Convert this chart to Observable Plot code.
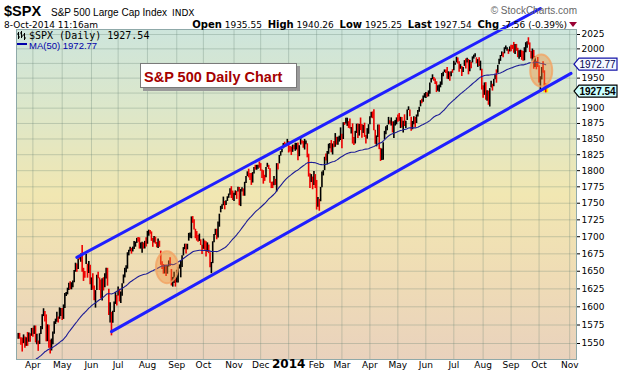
<!DOCTYPE html>
<html><head><meta charset="utf-8">
<script src="https://cdn.jsdelivr.net/npm/d3@7"></script>
<script src="https://cdn.jsdelivr.net/npm/@observablehq/plot@0.6"></script>
<style>
body{margin:0;background:#fff;}
#wrap{position:relative;width:620px;height:376px;overflow:hidden;background:#fff;}
#wrap > svg{position:absolute;left:0;top:0;}
.abs{position:absolute;white-space:nowrap;line-height:1;}
</style></head><body><div id="wrap"></div>
<script>
// ---------- data ----------
const tradingHolidays = ["2013-01-01","2013-01-21","2013-02-18","2013-03-29","2013-05-27","2013-07-04","2013-09-02","2013-11-28","2013-12-25",
  "2014-01-01","2014-01-20","2014-02-17","2014-04-18","2014-05-26","2014-07-04","2014-09-01","2014-11-27","2014-12-25"];

// closes before the first drawn bar (only feed the 50-day average)
const priorCloses = [1462.42,1459.37,1466.47,1461.89,1457.15,1461.02,1472.12,1472.05,1470.68,1472.34,1472.63,1480.94,1485.98,1492.56,1494.81,1494.82,1502.96,1500.18,1507.84,1501.96,1498.11,
  1513.17,1495.71,1511.29,1512.12,1509.39,1517.93,1517.01,1519.43,1520.33,1521.38,1519.79,1530.94,1511.95,1502.42,1515.60,1487.85,1496.94,1515.99,1514.68,
  1518.20,1525.20,1539.79,1541.46,1544.26,1551.18,1556.22,1552.48,1554.52];

// 14-Mar-2013 .. 31-Dec-2013
const close2013 = [1563.23,
  1560.70,1552.10,1548.34,1558.71,1545.80,1556.89,1551.69,1563.77,1562.85,1569.19,
  1562.17,1570.25,1553.69,1559.98,1553.28,1563.07,1568.61,1587.73,1593.37,1588.85,1552.36,1574.57,1552.01,1541.61,1555.25,1562.50,1578.78,1578.79,1585.16,1582.24,1593.61,1597.57,
  1582.70,1597.59,1614.42,1617.50,1625.96,1632.69,1626.67,1633.70,1633.77,1650.34,1658.78,1650.47,1667.47,1666.29,1669.16,1655.35,1650.51,1649.60,1660.06,1648.36,1654.41,1630.74,
  1640.42,1631.38,1608.90,1622.56,1643.38,1642.81,1626.13,1612.52,1636.36,1626.73,1639.04,1651.81,1628.93,1588.19,1592.43,1573.09,1588.03,1603.26,1613.20,1606.28,
  1614.96,1614.08,1615.41,1631.89,1640.46,1652.32,1652.62,1675.02,1680.19,1682.50,1676.26,1680.91,1689.37,1692.09,1695.53,1692.39,1685.94,1690.25,1691.65,1685.33,1685.96,1685.73,
  1706.87,1709.67,1707.14,1697.37,1690.91,1697.48,1691.42,1689.47,1694.16,1685.39,1661.32,1655.83,1646.06,1652.35,1642.80,1656.96,1663.50,1656.78,1630.48,1634.96,1638.17,1632.97,
  1639.77,1653.08,1655.08,1655.17,1671.71,1683.99,1689.13,1683.42,1687.99,1697.60,1704.76,1725.52,1722.34,1709.91,1701.84,1697.42,1692.77,1698.67,1691.75,1681.55,
  1695.00,1693.87,1678.66,1690.50,1676.12,1655.45,1656.40,1692.56,1703.20,1710.14,1698.06,1721.54,1733.15,1744.50,1744.66,1754.67,1746.38,1752.07,1759.77,1762.11,1771.95,1763.31,1756.54,
  1761.64,1767.93,1762.97,1770.49,1747.15,1770.61,1771.89,1767.69,1782.00,1790.62,1798.18,1791.53,1787.87,1781.37,1795.85,1804.76,1802.48,1802.75,1807.23,1805.81,
  1800.90,1795.15,1792.81,1785.03,1805.09,1808.37,1802.62,1782.22,1775.50,1775.32,1786.54,1781.00,1810.65,1809.60,1818.32,1827.99,1833.32,1842.02,1841.40,1841.07,1848.36];
const high2013 = [1563.6,
  1563.6,1557.7,1557.3,1561.6,1558.7,1557.7,1564.9,1564.0,1563.0,1570.3,
  1570.6,1573.7,1573.7,1562.6,1553.3,1563.1,1573.0,1589.1,1597.3,1593.4,1588.9,1575.3,1574.6,1554.4,1556.0,1565.4,1579.6,1583.0,1592.6,1585.8,1598.6,1597.6,
  1597.6,1602.6,1618.5,1619.8,1626.0,1632.8,1635.0,1633.7,1636.0,1651.1,1661.5,1660.5,1667.5,1672.8,1674.9,1687.2,1654.2,1649.8,1674.2,1660.1,1664.0,1658.5,
  1640.5,1646.5,1629.0,1622.6,1644.4,1648.7,1640.4,1637.7,1639.3,1640.8,1646.5,1654.2,1654.2,1624.6,1605.6,1592.4,1593.8,1606.8,1620.1,1615.9,
  1627.5,1624.3,1620.6,1632.1,1644.7,1654.2,1657.9,1676.6,1680.2,1684.5,1683.0,1684.8,1693.1,1692.1,1697.6,1698.8,1698.4,1690.9,1691.9,1690.9,1693.2,1698.4,
  1707.9,1709.7,1709.2,1707.1,1697.4,1700.2,1699.4,1691.5,1696.8,1693.4,1679.0,1663.6,1659.6,1658.6,1659.0,1658.0,1664.8,1669.5,1652.5,1641.2,1648.6,1641.2,
  1651.4,1655.7,1659.1,1664.8,1672.4,1684.1,1689.1,1689.1,1689.0,1704.9,1705.5,1729.4,1729.9,1725.0,1711.0,1707.6,1701.7,1703.9,1695.5,1687.6,
  1696.6,1693.9,1692.6,1691.0,1687.8,1676.5,1662.6,1692.6,1703.4,1711.0,1711.0,1721.8,1733.5,1745.3,1747.8,1759.3,1752.7,1753.7,1759.8,1764.0,1772.1,1775.2,1768.5,
  1765.0,1768.8,1767.9,1774.5,1774.0,1770.8,1773.4,1771.8,1782.0,1791.0,1798.2,1802.3,1795.5,1795.7,1797.0,1804.8,1808.4,1808.4,1808.4,1813.6,
  1811.0,1800.9,1800.0,1792.8,1805.1,1811.5,1808.4,1802.8,1782.0,1782.4,1791.0,1786.5,1811.0,1810.9,1823.8,1829.8,1833.3,1842.8,1844.9,1842.5,1849.4];
const low2013 = [1555.7,
  1555.7,1547.8,1538.6,1549.9,1543.7,1546.2,1546.2,1551.7,1551.7,1559.7,
  1558.5,1562.2,1550.8,1548.2,1539.5,1548.6,1562.2,1568.6,1586.5,1579.0,1552.3,1552.4,1543.5,1536.0,1540.0,1548.2,1562.5,1575.8,1578.9,1577.6,1582.8,1586.5,
  1581.3,1582.7,1597.6,1614.4,1616.6,1622.7,1623.7,1623.7,1626.7,1633.8,1648.6,1648.6,1652.5,1666.1,1662.7,1648.6,1635.5,1640.0,1659.8,1640.1,1646.7,1630.7,
  1622.7,1623.6,1608.5,1598.2,1622.7,1639.3,1622.7,1610.9,1608.2,1622.0,1626.7,1639.1,1628.8,1588.0,1577.7,1560.3,1577.5,1592.3,1603.3,1601.1,
  1614.9,1606.8,1604.6,1614.7,1632.1,1640.5,1647.7,1653.0,1672.1,1677.9,1674.6,1677.8,1681.3,1684.7,1690.2,1691.9,1681.9,1681.9,1676.0,1681.9,1682.1,1684.8,
  1689.0,1700.7,1703.6,1693.2,1684.5,1690.9,1689.0,1683.8,1682.6,1684.5,1658.6,1652.6,1645.8,1646.1,1642.6,1645.8,1656.0,1656.6,1629.1,1627.5,1632.5,1627.5,
  1633.4,1633.4,1653.1,1640.6,1655.2,1672.0,1681.0,1674.7,1680.8,1693.5,1697.7,1697.0,1719.8,1709.8,1697.1,1693.6,1691.9,1693.1,1687.1,1674.2,
  1681.6,1680.3,1670.4,1677.4,1675.4,1655.0,1646.5,1660.9,1691.0,1702.0,1695.5,1698.1,1714.1,1735.5,1740.5,1746.2,1740.0,1746.4,1752.7,1757.4,1762.1,1757.2,1754.1,
  1752.7,1761.6,1755.8,1767.0,1746.2,1744.9,1767.0,1760.6,1760.6,1780.2,1790.8,1788.8,1784.7,1777.2,1780.8,1794.7,1800.8,1800.6,1802.3,1803.9,
  1799.0,1787.9,1779.1,1783.4,1788.9,1805.1,1801.7,1780.6,1772.3,1772.3,1776.5,1777.2,1767.1,1801.2,1810.6,1822.8,1828.0,1834.4,1839.8,1837.8,1842.4];

// 2-Jan-2014 .. 8-Oct-2014
const close2014 = [
  1831.98,1831.37,1826.77,1837.88,1837.49,1838.13,1842.37,1819.20,1838.88,1848.38,1845.89,1838.70,1843.80,1844.86,1828.46,1790.29,1781.56,1792.50,1774.20,1794.19,1782.59,
  1741.89,1755.20,1751.64,1773.43,1797.02,1799.84,1819.75,1819.26,1829.83,1838.63,1840.76,1828.75,1839.78,1836.25,1847.61,1845.12,1845.16,1854.29,1859.45,
  1845.73,1873.91,1873.81,1877.03,1878.04,1877.17,1867.63,1868.20,1846.34,1841.13,1858.83,1872.25,1860.77,1872.01,1866.52,1857.44,1865.62,1852.56,1849.04,1857.62,1872.34,
  1885.52,1890.90,1888.77,1865.09,1845.04,1851.96,1872.18,1833.08,1815.69,1830.61,1842.98,1862.31,1864.85,1871.89,1879.55,1875.39,1878.61,1863.40,1869.43,1878.33,1883.95,
  1883.68,1881.14,1884.66,1867.72,1878.21,1875.63,1878.48,1896.65,1897.45,1888.53,1870.85,1877.86,1885.08,1872.83,1888.03,1892.49,1900.53,1911.91,1909.78,1920.03,1923.57,
  1924.97,1924.24,1927.88,1940.46,1949.44,1951.27,1950.79,1943.89,1930.11,1936.16,1937.78,1941.99,1956.98,1959.48,1962.87,1962.61,1949.98,1959.53,1957.22,1960.96,1960.23,
  1973.32,1974.62,1985.44,1977.65,1963.71,1972.83,1964.68,1967.57,1977.10,1973.28,1981.57,1958.12,1978.22,1973.63,1983.53,1987.01,1987.98,1978.34,1978.91,1969.95,1970.07,1930.67,
  1925.15,1938.99,1920.21,1920.24,1909.57,1931.59,1936.92,1933.75,1946.72,1955.18,1955.06,1971.74,1981.60,1986.51,1992.37,1988.40,1997.92,2000.02,2000.12,1996.74,2003.37,
  2002.28,2000.72,1997.65,2007.71,2001.54,1988.44,1995.69,1997.45,1985.54,1984.13,1998.98,2001.57,2011.36,2010.40,1994.29,1982.77,1998.30,1965.99,1982.85,1977.80,1972.29,
  1946.16,1946.17,1967.90,1964.82,1935.10,1927.54];
const high2014 = [
  1845.9,1838.2,1837.2,1840.1,1840.0,1843.2,1843.0,1843.5,1839.3,1850.8,1847.0,1846.2,1849.3,1846.9,1842.3,1825.8,1795.0,1793.9,1790.1,1798.8,1793.9,
  1784.8,1758.7,1755.8,1774.1,1798.0,1800.0,1821.0,1826.0,1830.1,1841.7,1842.9,1847.5,1842.1,1846.1,1858.7,1852.7,1852.6,1854.5,1867.9,
  1857.7,1876.2,1876.5,1883.6,1883.6,1877.9,1882.4,1868.4,1874.4,1852.4,1862.3,1873.8,1874.1,1873.5,1883.9,1873.3,1871.9,1875.5,1855.6,1866.6,1873.0,
  1885.8,1893.2,1893.8,1897.3,1864.0,1854.9,1872.4,1872.5,1835.1,1834.2,1844.0,1862.3,1869.6,1871.9,1884.9,1879.6,1884.1,1877.7,1877.7,1880.0,1884.1,
  1888.6,1891.3,1885.0,1884.9,1878.8,1889.1,1878.6,1897.1,1902.2,1897.1,1885.3,1878.3,1886.0,1884.9,1888.8,1896.3,1901.3,1912.3,1914.5,1920.1,1924.0,
  1925.9,1925.1,1928.6,1941.7,1949.5,1955.6,1950.9,1948.7,1943.9,1937.3,1938.5,1943.6,1957.7,1959.9,1963.9,1963.7,1968.2,1960.8,1959.9,1961.0,1964.2,
  1978.6,1975.9,1985.6,1984.2,1977.9,1972.9,1969.8,1968.0,1979.8,1982.5,1983.9,1981.8,1979.9,1976.9,1986.2,1989.2,1991.4,1984.6,1981.5,1984.9,1978.9,1965.1,
  1937.4,1942.0,1942.4,1928.9,1928.3,1932.4,1944.9,1939.7,1948.0,1955.2,1964.0,1971.7,1982.0,1988.6,1994.8,1993.5,2001.9,2005.0,2002.1,1998.6,2003.4,
  2006.1,2006.1,2011.2,2007.7,2007.7,2001.0,1996.7,1997.7,1996.7,1995.6,2002.0,2010.7,2012.3,2019.3,2010.3,1995.4,1999.8,1997.3,1986.4,1978.6,1985.2,
  1971.2,1952.3,1968.0,1977.8,1962.4,1940.3];
const low2014 = [
  1827.7,1829.1,1823.7,1828.7,1833.0,1830.4,1832.4,1815.5,1821.9,1840.2,1842.0,1835.2,1832.4,1840.9,1820.1,1790.0,1772.3,1781.6,1770.5,1777.0,1772.3,
  1739.7,1743.8,1737.9,1752.2,1773.4,1791.8,1800.0,1815.2,1809.2,1825.6,1834.4,1828.0,1824.6,1835.9,1836.8,1840.2,1840.2,1845.0,1847.6,
  1834.4,1849.2,1871.9,1874.2,1870.3,1867.0,1866.0,1858.0,1841.9,1839.6,1842.0,1858.9,1850.8,1854.6,1863.5,1851.0,1858.9,1852.5,1842.1,1849.7,1857.6,
  1873.0,1883.8,1882.7,1863.3,1841.5,1837.5,1852.4,1833.0,1814.4,1815.8,1816.3,1848.7,1856.7,1863.2,1872.6,1873.9,1870.8,1859.7,1850.6,1870.8,1872.8,
  1877.0,1878.5,1866.8,1867.6,1859.8,1870.1,1867.0,1880.0,1896.1,1885.9,1862.4,1864.8,1872.9,1868.1,1875.0,1885.4,1893.2,1902.2,1907.3,1909.8,1916.6,
  1915.8,1918.0,1918.6,1922.9,1942.0,1947.2,1944.6,1939.3,1925.8,1927.8,1926.3,1933.7,1937.9,1952.3,1959.2,1958.0,1948.3,1947.5,1944.7,1952.2,1958.2,
  1962.3,1972.0,1975.9,1974.0,1959.8,1965.0,1952.9,1959.6,1969.9,1965.3,1975.7,1955.6,1960.8,1965.9,1975.7,1982.4,1985.7,1974.4,1968.2,1969.8,1962.4,1930.0,
  1916.4,1921.2,1913.1,1911.5,1904.8,1901.9,1933.4,1928.3,1935.6,1947.4,1941.5,1958.2,1972.7,1978.5,1986.8,1984.8,1991.4,1998.6,1996.1,1990.5,1994.7,
  1994.9,1999.0,1992.4,1990.1,1995.8,1984.9,1982.3,1985.2,1980.3,1978.5,1979.4,1993.3,2001.0,2006.6,1993.8,1982.7,1978.6,1965.1,1968.0,1964.1,1968.0,
  1941.7,1926.0,1947.0,1958.4,1934.9,1925.3];

const monthLabels = ["Apr","May","Jun","Jul","Aug","Sep","Oct","Nov","Dec","2014","Feb","Mar","Apr","May","Jun","Jul","Aug","Sep","Oct","Nov"];
const yTickValues = [1550,1575,1600,1625,1650,1675,1700,1725,1750,1775,1800,1825,1850,1875,1900,1925,1950,1975,2000,2025];
const yTickHidden = [1925,1975];

// trend channel (hand-drawn lines on the original)
const channelNames = ["upper","lower"];
const channelStartDates = ["2013-05-16","2013-06-24"];
const channelStartValues = [1670,1566];
const channelEndDates = ["2014-10-02","2014-11-04"];
const channelEndValues = [2071,1958];

// highlighted areas
const highlightDates = ["2013-08-22","2014-10-03"];
const highlightValues = [1655,1962];

// right-edge price tags
const lastPrice = 1927.54;
const lastMA50 = 1972.77;

// ---------- build ----------
const days = [];
for (let t = Date.UTC(2013,0,2); t <= Date.UTC(2014,11,31); t += 864e5) {
  const d = new Date(t), w = d.getUTCDay(), s = d.toISOString().slice(0,10);
  if (w === 0 || w === 6 || tradingHolidays.includes(s)) continue;
  days.push(s);
}
const gOf = new Map(days.map((s, i) => [s, i]));
const closes = priorCloses.concat(close2013, close2014);
const highs = high2013.concat(high2014);
const lows = low2013.concat(low2014);
const first = priorCloses.length;
const bars = highs.map((h, i) => {
  const g = first + i;
  return {g, high: h, low: lows[i], close: closes[g], prev: closes[g - 1]};
});
const maRows = closes.map((c, g) => ({g, c}));

const monthFirst = [];
days.forEach((s, g) => { const m = s.slice(0,7); if (g === 0 || days[g-1].slice(0,7) !== m) monthFirst.push({m, g}); });
const monthTicks = monthFirst.filter(d => d.m >= "2013-04" && d.m <= "2014-11").map((d, i) => ({g: d.g, label: monthLabels[i]}));

const channelRows = channelNames.flatMap((n, i) => [
  {name: n, g: gOf.get(channelStartDates[i]), v: channelStartValues[i]},
  {name: n, g: gOf.get(channelEndDates[i]), v: channelEndValues[i]}
]);
const highlights = highlightDates.map((d, i) => ({g: gOf.get(d), v: highlightValues[i]}));

const NS = "http://www.w3.org/2000/svg";
const background = (index, scales, values, dim) => {
  const g = document.createElementNS(NS, "g");
  const w = dim.width - dim.marginLeft - dim.marginRight, h = dim.height - dim.marginTop - dim.marginBottom;
  g.innerHTML = `<defs><linearGradient id="bgGrad" x1="0" y1="0" x2="0" y2="1">
    <stop offset="0" stop-color="#cde5dc"/><stop offset="0.25" stop-color="#dde7c9"/>
    <stop offset="0.5" stop-color="#f1e7b2"/><stop offset="0.75" stop-color="#efdcb5"/>
    <stop offset="1" stop-color="#e9d2bd"/></linearGradient></defs>
    <rect x="${dim.marginLeft}" y="${dim.marginTop}" width="${w}" height="${h}" fill="url(#bgGrad)"/>`;
  return g;
};
const highlightMark = (index, scales) => {
  const g = document.createElementNS(NS, "g");
  highlights.forEach(d => {
    const e = document.createElementNS(NS, "ellipse");
    e.setAttribute("cx", scales.x(d.g)); e.setAttribute("cy", scales.y(d.v));
    e.setAttribute("rx", 11); e.setAttribute("ry", 16);
    e.setAttribute("fill", "#f08a30"); e.setAttribute("fill-opacity", 0.4);
    e.setAttribute("stroke", "#f2a464"); e.setAttribute("stroke-opacity", 0.8); e.setAttribute("stroke-width", 2);
    g.appendChild(e);
  });
  return g;
};
const priceTags = (index, scales, values, dim) => {
  const g = document.createElementNS(NS, "g");
  const x0 = dim.width - dim.marginRight - 2;
  const tags = [
    {v: lastMA50, stroke: "#1414a8", fill: "#f4f8ff", weight: "normal", color: "#000050"},
    {v: lastPrice, stroke: "#000", fill: "#ccffff", weight: "bold", color: "#000"}
  ];
  tags.forEach(t => {
    const cy = scales.y(t.v), h = 12, w = 43;
    const p = document.createElementNS(NS, "path");
    p.setAttribute("d", `M${x0},${cy}L${x0+5},${cy-h/2}H${x0+w}V${cy+h/2}H${x0+5}Z`);
    p.setAttribute("fill", t.fill); p.setAttribute("stroke", t.stroke); p.setAttribute("stroke-width", 1.2);
    g.appendChild(p);
    const tx = document.createElementNS(NS, "text");
    tx.setAttribute("x", x0 + 5.5); tx.setAttribute("y", cy + 3.7);
    tx.setAttribute("text-anchor", "start");
    tx.setAttribute("font-family", "Liberation Sans, Arial, sans-serif");
    tx.setAttribute("font-size", 10); tx.setAttribute("font-weight", t.weight); tx.setAttribute("fill", t.color);
    tx.textContent = t.v.toFixed(2);
    g.appendChild(tx);
  });
  return g;
};

const chart = Plot.plot({
  width: 620, height: 376,
  marginLeft: 16, marginRight: 44, marginTop: 29, marginBottom: 17,
  style: {background: "transparent", fontFamily: "DejaVu Sans, Verdana, sans-serif", fontSize: "9px", overflow: "visible", color: "#000"},
  x: {domain: [47.7, 468.1], axis: null},
  y: {type: "log", domain: [1528.7, 2033.8], axis: "right", ticks: yTickValues.filter(v => !yTickHidden.includes(v)),
      tickFormat: d => String(d), tickSize: 3, tickPadding: 2, label: null},
  color: {type: "identity"},
  marks: [
    background,
    Plot.ruleY(yTickValues, {stroke: "#5f7f70", strokeOpacity: 0.3}),
    Plot.ruleX(monthTicks, {x: "g", stroke: "#5f7f70", strokeOpacity: 0.3}),
    Plot.ruleX(bars.slice(-1), {x: "g", y1: "low", y2: "high", stroke: "#ffee00", strokeWidth: 5}),
    Plot.ruleX(bars, {x: "g", y1: "low", y2: "high", stroke: d => d.close >= d.prev ? "#000000" : "#ee0000", strokeWidth: 1.6}),
    Plot.lineY(maRows, Plot.windowY({k: 50, anchor: "end"}, {x: "g", y: "c", stroke: "#1c1c96", strokeWidth: 1.1, clip: true})),
    highlightMark,
    Plot.line(channelRows, {x: "g", y: "v", z: "name", stroke: "#1f1fff", strokeWidth: 3}),
    Plot.frame({stroke: "#8fa9a9"}),
    priceTags,
    Plot.text(monthTicks.filter(d => d.label !== "2014"), {x: "g", text: "label", frameAnchor: "bottom", dy: 8, fontSize: 9, fill: "#000"}),
    Plot.text(monthTicks.filter(d => d.label === "2014"), {x: "g", text: "label", frameAnchor: "bottom", dy: 8, fontSize: 12, fontWeight: "bold", fill: "#000"})
  ]
});

const wrap = document.getElementById("wrap");
wrap.appendChild(chart);
wrap.insertAdjacentHTML("beforeend", `
<div class="abs" style="left:4px;top:3px;font:bold 14.5px 'Liberation Sans',Arial,sans-serif;">$SPX</div>
<div class="abs" style="left:51px;top:7px;font:10px 'Liberation Sans',Arial,sans-serif;">S&amp;P 500 Large Cap Index</div>
<div class="abs" style="left:172px;top:8px;font:9px 'DejaVu Sans',Verdana,sans-serif;">INDX</div>
<div class="abs" style="left:4px;top:20px;font:9px 'DejaVu Sans',Verdana,sans-serif;">8-Oct-2014 11:16am</div>
<div class="abs" style="right:53px;top:19px;font:9px 'DejaVu Sans',Verdana,sans-serif;">
<b style="font-size:10px">Open</b> 1935.55&nbsp; <b style="font-size:10px">High</b> 1940.26&nbsp; <b style="font-size:10px">Low</b> 1925.25&nbsp; <b style="font-size:10px">Last</b> 1927.54&nbsp; <b style="font-size:10px">Chg</b> -7.56 (-0.39%)</div>
<svg class="abs" style="left:569px;top:22px" width="9" height="6"><path d="M0,0H8L4,5Z" fill="#990033"/></svg>
<div class="abs" style="right:43px;top:5px;font:10px 'Liberation Sans',Arial,sans-serif;color:#666;">© StockCharts.com</div>
<svg class="abs" style="left:17px;top:31px" width="10" height="9"><path d="M1.5,1V8M0,3H1.5M1.5,6H3M4.5,0V7M3,2H4.5M4.5,5H6M7.5,2V9M6,4H7.5M7.5,7H9" stroke="#000" stroke-width="1"/></svg>
<div class="abs" style="left:29px;top:30px;font:10px 'DejaVu Sans Mono',monospace;">$SPX (Daily) 1927.54</div>
<div class="abs" style="left:17px;top:43px;width:10px;height:2px;background:#0000aa;"></div>
<div class="abs" style="left:29px;top:40px;font:9.5px 'Liberation Sans',Arial,sans-serif;color:#0000aa;">MA(50) 1972.77</div>
<div class="abs" style="left:140px;top:63px;width:157px;height:25px;box-sizing:border-box;border:1px solid #7a7a7a;background:#fff;box-shadow:3px 3px 0 #9a9a9a;font:bold 14.5px 'Liberation Sans',Arial,sans-serif;color:#a50000;padding:5px 0 0 3px;">S&amp;P 500 Daily Chart</div>
`);
</script></body></html>
